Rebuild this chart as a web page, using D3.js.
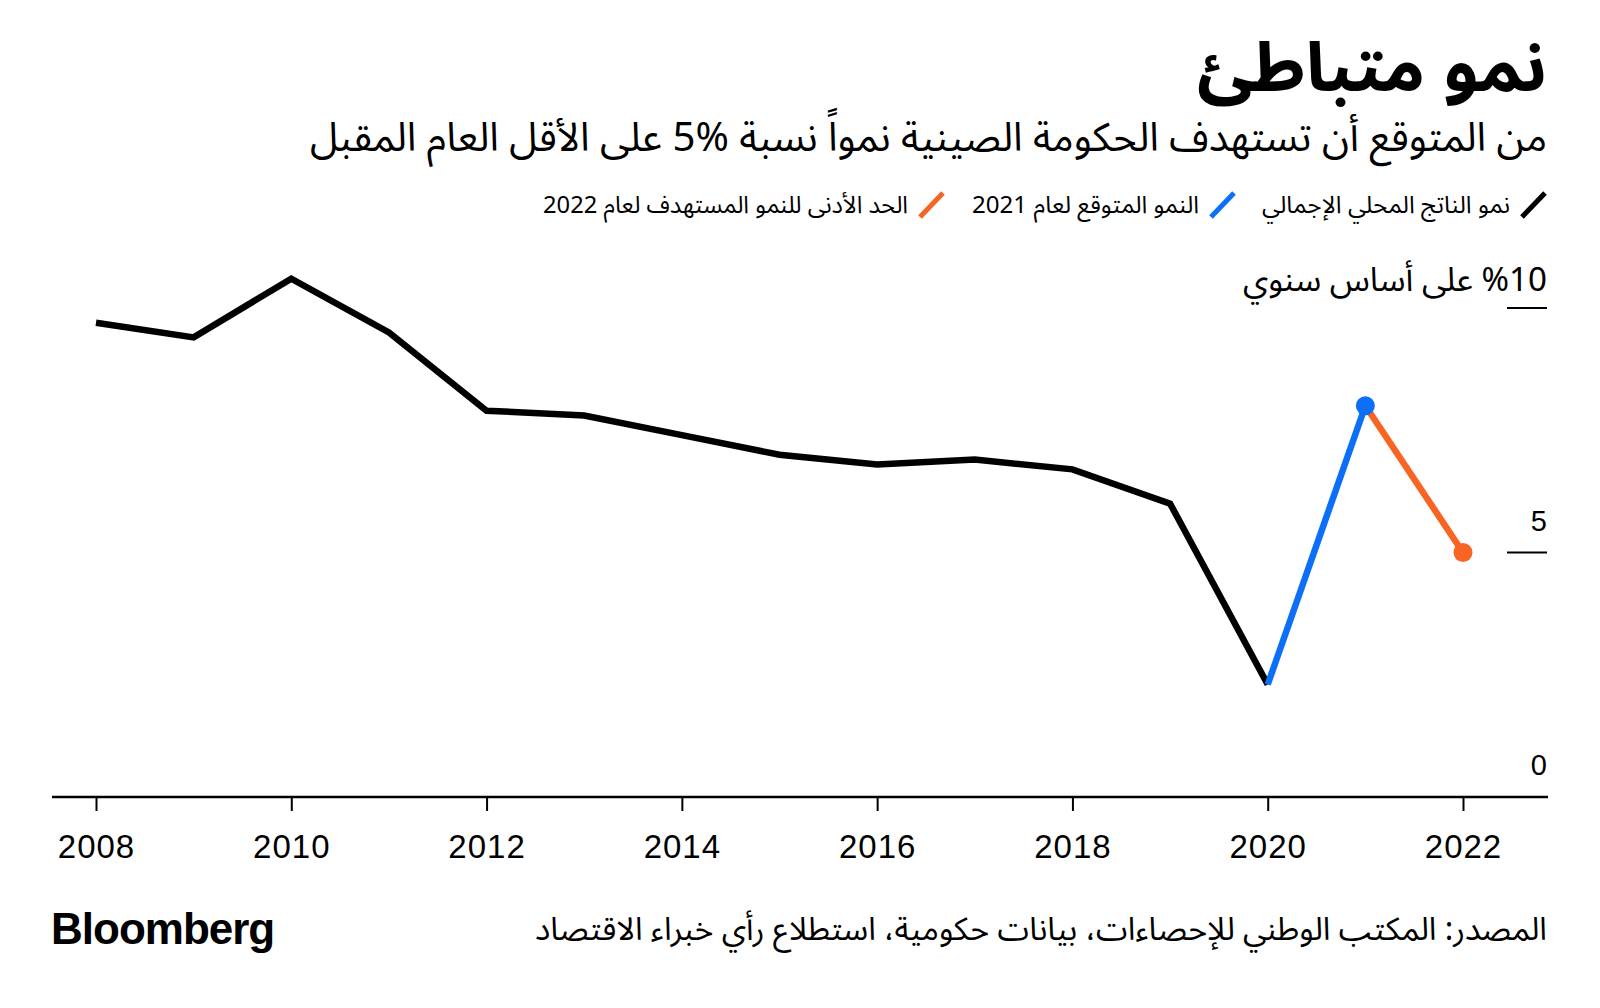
<!DOCTYPE html>
<html>
<head>
<meta charset="utf-8">
<script src="https://cdn.jsdelivr.net/npm/d3@7"></script>
<style>
  body { margin: 0; background: #fff; }
  svg { display: block; }
</style>
</head>
<body>
<svg id="chart"></svg>
<script>
// data
const years = [2008, 2009, 2010, 2011, 2012, 2013, 2014, 2015, 2016, 2017, 2018, 2019, 2020];
const gdpGrowth = [9.7, 9.4, 10.6, 9.5, 7.9, 7.8, 7.4, 7.0, 6.8, 6.9, 6.7, 6.0, 2.3];
const forecastYears = [2020, 2021];
const forecastValues = [2.3, 8.0];
const targetYears = [2021, 2022];
const targetValues = [8.0, 5.0];
const xTicks = [2008, 2010, 2012, 2014, 2016, 2018, 2020, 2022];
const yTicks = [0, 5, 10];

const title = 'نمو متباطئ';
const subtitle = 'من المتوقع أن تستهدف الحكومة الصينية نمواً نسبة %5 على الأقل العام المقبل';
const legendLabels = ['نمو الناتج المحلي الإجمالي', 'النمو المتوقع لعام 2021', 'الحد الأدنى للنمو المستهدف لعام 2022'];
const unitLabel = '%10 على أساس سنوي';
const source = 'المصدر: المكتب الوطني للإحصاءات، بيانات حكومية، استطلاع رأي خبراء الاقتصاد';

const width = 1600, height = 1008;
const arabicFont = "'Noto Sans Arabic', 'DejaVu Sans', sans-serif";
const latinFont = "'Liberation Sans', Arial, sans-serif";
const black = '#000', blue = '#0c6ff7', orange = '#f86424';

const svg = d3.select('#chart')
  .attr('width', width)
  .attr('height', height);

// scales
const x = d3.scaleLinear().domain([2008, 2022]).range([96, 1463]);
const y = d3.scaleLinear().domain([0, 10]).range([797, 308]);
const right = 1547;

// arabic text helper, anchored at its right edge
function rtlText(sel, tx, ty, size, len, bold) {
  return sel.append('text')
    .attr('x', tx).attr('y', ty)
    .attr('direction', 'rtl').attr('text-anchor', 'start')
    .attr('textLength', len).attr('lengthAdjust', 'spacingAndGlyphs')
    .style('font-family', arabicFont)
    .style('font-weight', bold ? 'bold' : 'normal')
    .style('font-size', size + 'px');
}

// title + subtitle
rtlText(svg, right, 91, 68, 350, true).text(title);
rtlText(svg, right, 151, 40, 1237, false).text(subtitle);

// legend
const legendColors = [black, blue, orange];
const legendX = [1549, 1238, 947];
const legendLen = [248, 227, 365];
legendLabels.forEach((lab, i) => {
  const g = svg.append('g').attr('transform', `translate(${legendX[i]},205)`);
  g.append('line')
    .attr('x1', -27).attr('y1', 12).attr('x2', -4).attr('y2', -12)
    .attr('stroke', legendColors[i]).attr('stroke-width', 5);
  rtlText(g, -39, 8, 24, legendLen[i], false).text(lab);
});

// y axis (right side)
svg.selectAll('.ytick')
  .data(yTicks.filter(d => d > 0))
  .enter().append('line')
  .attr('x1', 1507).attr('x2', right)
  .attr('y1', d => y(d)).attr('y2', d => y(d))
  .attr('stroke', '#000').attr('stroke-width', 2);

svg.selectAll('.ylab')
  .data(yTicks.filter(d => d < 10))
  .enter().append('text')
  .attr('x', right)
  .attr('y', d => y(d) - 22)
  .attr('text-anchor', 'end')
  .style('font-family', latinFont)
  .style('font-size', '29px')
  .text(d => d);

rtlText(svg, right, y(10) - 17, 33, 304, false).text(unitLabel);

// x axis
const xAxis = d3.axisBottom(x)
  .tickValues(xTicks)
  .tickSize(14)
  .tickFormat(d3.format('d'));

const gx = svg.append('g')
  .attr('transform', `translate(0,${y(0)})`)
  .call(xAxis);
gx.select('.domain').remove();
gx.selectAll('.tick line').attr('stroke', '#000').attr('stroke-width', 2);
gx.selectAll('.tick text')
  .attr('y', 61)
  .attr('dy', null)
  .style('font-family', latinFont)
  .style('font-size', '33px')
  .style('letter-spacing', '1px')
  .attr('fill', '#000');
svg.append('line')
  .attr('x1', 52).attr('x2', 1548)
  .attr('y1', y(0)).attr('y2', y(0))
  .attr('stroke', '#000').attr('stroke-width', 2.5);

// lines
const line = d3.line()
  .x(d => x(d[0]))
  .y(d => y(d[1]));

svg.append('path')
  .datum(years.map((yr, i) => [yr, gdpGrowth[i]]))
  .attr('d', line)
  .attr('fill', 'none').attr('stroke', black).attr('stroke-width', 6.5);

svg.append('path')
  .datum(targetYears.map((yr, i) => [yr, targetValues[i]]))
  .attr('d', line)
  .attr('fill', 'none').attr('stroke', orange).attr('stroke-width', 6.5);

svg.append('path')
  .datum(forecastYears.map((yr, i) => [yr, forecastValues[i]]))
  .attr('d', line)
  .attr('fill', 'none').attr('stroke', blue).attr('stroke-width', 6.5);

svg.append('circle')
  .attr('cx', x(forecastYears[1])).attr('cy', y(forecastValues[1]))
  .attr('r', 9.5).attr('fill', blue);

svg.append('circle')
  .attr('cx', x(targetYears[1])).attr('cy', y(targetValues[1]))
  .attr('r', 9.5).attr('fill', orange);

// footer
svg.append('text')
  .attr('x', 51).attr('y', 944)
  .style('font-family', latinFont).style('font-weight', 'bold')
  .style('font-size', '44px')
  .style('letter-spacing', '-1px')
  .text('Bloomberg');

rtlText(svg, right, 940, 32, 1012, false).text(source);
</script>
</body>
</html>
